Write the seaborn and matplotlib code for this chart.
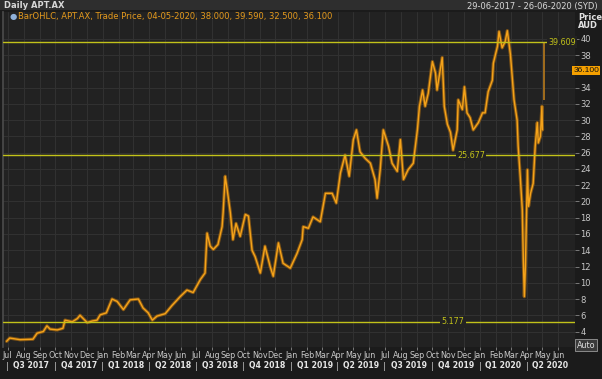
import matplotlib
matplotlib.use("Agg")
import matplotlib.pyplot as plt
import matplotlib.transforms as mtrans
from matplotlib.patches import Rectangle
import seaborn as sns
import pandas as pd

# ---------------- data ----------------
dates = [
    "2017-06-29", "2017-07-05", "2017-07-25", "2017-08-19", "2017-08-27", "2017-09-08",
    "2017-09-15", "2017-09-21", "2017-10-05", "2017-10-16", "2017-10-20", "2017-11-03",
    "2017-11-13", "2017-11-18", "2017-12-02", "2017-12-12", "2017-12-21", "2017-12-27",
    "2018-01-08", "2018-01-19", "2018-01-29", "2018-02-10", "2018-02-23", "2018-03-11",
    "2018-03-20", "2018-03-30", "2018-04-07", "2018-04-16", "2018-05-02", "2018-05-15",
    "2018-05-31", "2018-06-13", "2018-06-25", "2018-07-09", "2018-07-18", "2018-07-22",
    "2018-07-28", "2018-08-03", "2018-08-12", "2018-08-20", "2018-08-22", "2018-08-26",
    "2018-08-30", "2018-09-05", "2018-09-10", "2018-09-16", "2018-09-24", "2018-10-04",
    "2018-10-10", "2018-10-17", "2018-10-23", "2018-11-02", "2018-11-11", "2018-11-21",
    "2018-11-27", "2018-12-07", "2018-12-16", "2018-12-30", "2019-01-12", "2019-01-22",
    "2019-01-24", "2019-02-03", "2019-02-12", "2019-02-26", "2019-03-08", "2019-03-21",
    "2019-03-29", "2019-04-06", "2019-04-15", "2019-04-23", "2019-05-01", "2019-05-07",
    "2019-05-14", "2019-05-24", "2019-06-03", "2019-06-12", "2019-06-16", "2019-06-22",
    "2019-06-28", "2019-07-08", "2019-07-15", "2019-07-25", "2019-07-31", "2019-08-06",
    "2019-08-15", "2019-08-25", "2019-09-02", "2019-09-06", "2019-09-12", "2019-09-17",
    "2019-09-23", "2019-10-01", "2019-10-07", "2019-10-10", "2019-10-20", "2019-10-24",
    "2019-10-30", "2019-11-05", "2019-11-10", "2019-11-18", "2019-11-20", "2019-11-28",
    "2019-12-02", "2019-12-07", "2019-12-13", "2019-12-19", "2019-12-29", "2020-01-06",
    "2020-01-11", "2020-01-17", "2020-01-25", "2020-01-27", "2020-02-04", "2020-02-07",
    "2020-02-13", "2020-02-19", "2020-02-23", "2020-02-29", "2020-03-04", "2020-03-07",
    "2020-03-13", "2020-03-15", "2020-03-19", "2020-03-23", "2020-03-25", "2020-03-27",
    "2020-03-29", "2020-03-31", "2020-04-02", "2020-04-04", "2020-04-08", "2020-04-13",
    "2020-04-17", "2020-04-21", "2020-04-23", "2020-04-27", "2020-04-30", "2020-05-01",
]
prices = [
    2.8, 3.2, 3.0, 3.06, 3.8, 4.0,
    4.7, 4.3, 4.2, 4.4, 5.4, 5.2,
    5.6, 6.0, 5.1, 5.3, 5.4, 6.05,
    6.3, 8.0, 7.7, 6.7, 7.9, 8.0,
    6.9, 6.3, 5.4, 5.9, 6.2, 7.2,
    8.3, 9.1, 8.8, 10.4, 11.2, 16.1,
    14.5, 14.1, 14.7, 16.9, 18.6, 23.1,
    21.4, 18.6, 15.3, 17.3, 15.7, 18.4,
    18.2, 14.0, 13.2, 11.2, 14.5, 12.0,
    10.8, 14.9, 12.4, 11.8, 13.6, 15.3,
    16.9, 16.7, 18.1, 17.5, 21.0, 21.0,
    19.8, 23.5, 25.7, 23.1, 27.6, 28.8,
    26.1, 25.3, 24.7, 22.7, 20.4, 23.9,
    28.8, 26.8, 24.7, 23.7, 27.6, 22.7,
    23.9, 24.7, 28.8, 31.7, 33.7, 31.7,
    33.3, 37.2, 35.8, 33.7, 37.7, 31.7,
    29.5, 28.5, 26.3, 28.8, 32.5, 31.3,
    34.1, 30.9, 30.3, 28.8, 29.7, 30.9,
    30.9, 33.5, 34.9, 37.0, 39.1, 40.9,
    38.9, 39.7, 41.0, 38.1, 34.9, 32.5,
    30.0, 26.8, 23.1, 19.0, 12.8, 8.3,
    12.0, 17.7, 23.9, 19.4, 21.0, 22.2,
    26.8, 29.7, 27.2, 28.0, 31.7, 28.8,
]
last_date = "2020-05-04"
last_open, last_high, last_low, last_close = 38.000, 39.590, 32.500, 36.100
levels = [39.609, 25.677, 5.177]
level_labels = ["39.609", "25.677", "5.177"]
y_ticks = list(range(4, 41, 2))
quarters = ["Q3 2017", "Q4 2017", "Q1 2018", "Q2 2018", "Q3 2018", "Q4 2018",
            "Q1 2019", "Q2 2019", "Q3 2019", "Q4 2019", "Q1 2020", "Q2 2020"]

# ---------------- style ----------------
FIG_BG = "#1b1b1b"
AX_BG = "#222222"
GRID = "#323232"
TXT = "#c8c8c8"
ORANGE = "#f5a31a"
YELLOW = "#c2c21a"

sns.set_theme(style="dark", rc={
    "axes.facecolor": AX_BG, "figure.facecolor": FIG_BG,
    "grid.color": GRID, "axes.edgecolor": "#444444",
})
plt.rcParams["font.family"] = ["DejaVu Sans"]

fig = plt.figure(figsize=(6.02, 3.79), dpi=100)
ax = fig.add_axes([3 / 602, 1 - 347 / 379, 572 / 602, 335 / 379])

df = pd.DataFrame({"date": pd.to_datetime(dates), "price": prices})
sns.lineplot(data=df, x="date", y="price", ax=ax, color="#9a6212", lw=2.4, alpha=0.8)
sns.lineplot(data=df, x="date", y="price", ax=ax, color=ORANGE, lw=1.0)

# last OHLC bar
ld = pd.to_datetime(last_date)
ax.vlines(ld, last_low, last_high, color="#b77a1c", lw=1.2)

# horizontal level lines
xmin, xmax = pd.Timestamp("2017-06-22"), pd.Timestamp("2020-07-03")
label_pos = [pd.Timestamp("2020-06-08"), pd.Timestamp("2019-12-15"), pd.Timestamp("2019-11-10")]
for lv, lab, lp in zip(levels, level_labels, label_pos):
    ax.axhline(lv, color=YELLOW, lw=1.0, zorder=3)
    ax.text(lp, lv, lab, color=YELLOW, fontsize=5.8, ha="center", va="center", zorder=4,
            bbox=dict(boxstyle="square,pad=0.15", fc=AX_BG, ec="none"))

ax.set_xlim(xmin, xmax)
ax.set_ylim(2.1, 43.3)

# grid / ticks
month_starts = pd.date_range("2017-07-01", "2020-06-01", freq="MS")
ax.set_xticks(month_starts)
ax.set_xticklabels([d.strftime("%b") for d in month_starts])
ax.set_yticks(y_ticks)
# the "36" label is covered by the last-price box in the reference
ax.set_yticklabels(["" if t == 36 else str(t) for t in y_ticks])
ax.grid(True, color=GRID, lw=0.7)
ax.yaxis.tick_right()
ax.tick_params(axis="y", which="both", right=True, length=3, width=0.6, color="#888888",
               labelsize=6, labelcolor=TXT, pad=1)
ax.tick_params(axis="x", bottom=True, length=2, width=0.6, color="#888888",
               labelsize=5.8, labelcolor=TXT, pad=1)
ax.set_xlabel("")
ax.set_ylabel("")
for s in ["top", "right", "bottom"]:
    ax.spines[s].set_visible(False)
ax.spines["left"].set_color("#4a4a4a")

# quarter labels
trans = mtrans.blended_transform_factory(ax.transData, ax.transAxes)
q_starts = pd.date_range("2017-07-01", "2020-04-01", freq="QS")
for qs, ql in zip(q_starts, quarters):
    qe = qs + pd.DateOffset(months=3)
    mid = qs + (qe - qs) / 2
    ax.text(mid, -0.055, ql, transform=trans, color="#e6e6e6", fontsize=5.6, fontweight="bold",
            ha="center", va="center", clip_on=False)
    ax.text(qs, -0.057, "|", transform=trans, color="#bbbbbb", fontsize=6.5,
            ha="center", va="center", clip_on=False)

# last price box on right axis
ax.text(0.997, last_close, f"{last_close:.3f}",
        transform=mtrans.blended_transform_factory(ax.transAxes, ax.transData),
        color="#111111", fontsize=6, family=["Liberation Sans", "DejaVu Sans"],
        ha="left", va="center", clip_on=False, zorder=5,
        bbox=dict(boxstyle="square,pad=0.12", fc="#f5a000", ec="none"))

# header
fig.patches.append(Rectangle((0, 1 - 10 / 379), 1, 10 / 379, transform=fig.transFigure,
                             fc="#2e2e2e", ec="none", zorder=0))
fig.text(4 / 602, 1 - 5 / 379, "Daily APT.AX", color="#d8d8d8", fontsize=6, fontweight="bold",
         ha="left", va="center")
fig.text(598 / 602, 1 - 6 / 379, "29-06-2017 - 26-06-2020 (SYD)", color="#d8d8d8",
         fontsize=6, ha="right", va="center")
fig.text(578 / 602, 1 - 17 / 379, "Price", color="#e0e0e0", fontsize=6, fontweight="bold",
         ha="left", va="center")
fig.text(578 / 602, 1 - 26 / 379, "AUD", color="#e0e0e0", fontsize=6, fontweight="bold",
         ha="left", va="center")
fig.text(10 / 602, 1 - 17 / 379, "\u25CF", color="#8fb0d8", fontsize=6, ha="left", va="center")
fig.text(18 / 602, 1 - 17 / 379,
         "BarOHLC, APT.AX, Trade Price, 04-05-2020, 38.000, 39.590, 32.500, 36.100",
         color="#e59a1c", fontsize=6, ha="left", va="center")
fig.text(586 / 602, 1 - 345 / 379, "Auto", color="#e0e0e0", fontsize=5.8, ha="center", va="center",
         bbox=dict(boxstyle="square,pad=0.15", fc="#3a3a3a", ec="#9a9a9a", lw=0.6))

fig.savefig("out.png", dpi=100, facecolor=FIG_BG)
